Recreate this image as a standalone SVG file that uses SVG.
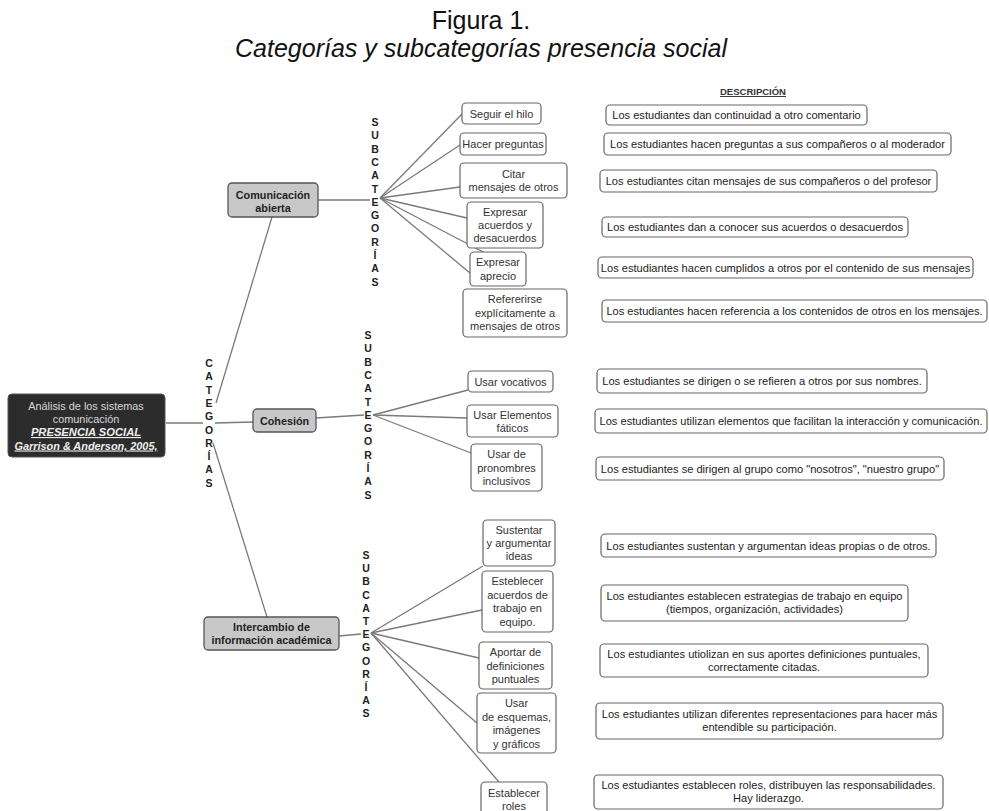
<svg xmlns="http://www.w3.org/2000/svg" width="989" height="811" viewBox="0 0 989 811">
<style>
text{font-family:"Liberation Sans",Arial,sans-serif;}
.title{font-size:25px;fill:#111;text-anchor:middle;}
.conn line{stroke:#7a7a7a;stroke-width:1.3;}
.box{fill:#fff;stroke:#666;stroke-width:1.2;}
.cat{fill:#c8c8c8;stroke:#555;stroke-width:1.3;}
.st{font-size:11px;fill:#333;text-anchor:middle;}
.dt{font-size:11.1px;fill:#222;text-anchor:middle;}
.ct{font-size:10.8px;font-weight:bold;fill:#222;text-anchor:middle;}
.vl{font-size:10.5px;font-weight:bold;fill:#222;text-anchor:middle;}
</style>
<rect width="989" height="811" fill="#fff"/>
<text class="title" x="481" y="29">Figura 1.</text>
<text class="title" x="481" y="57" font-style="italic">Categorías y subcategorías presencia social</text>
<text x="753" y="95" font-size="9.5" font-weight="bold" fill="#333" text-anchor="middle" text-decoration="underline">DESCRIPCIÓN</text>

<g id="connectors" class="conn">
<line x1="166" y1="423" x2="203" y2="423"/>
<line x1="215" y1="423" x2="253" y2="422"/>
<line x1="216" y1="403" x2="272" y2="217"/>
<line x1="213" y1="443" x2="267" y2="617"/>
<line x1="318" y1="200" x2="370" y2="200"/>
<line x1="316" y1="418" x2="364" y2="415"/>
<line x1="339" y1="636" x2="361" y2="634"/>
<line x1="380" y1="198" x2="462" y2="114"/>
<line x1="380" y1="198" x2="460" y2="145"/>
<line x1="380" y1="198" x2="460" y2="187"/>
<line x1="380" y1="198" x2="467" y2="218"/>
<line x1="380" y1="198" x2="487" y2="254"/>
<line x1="380" y1="198" x2="470" y2="273"/>
<line x1="373" y1="415" x2="468" y2="390"/>
<line x1="373" y1="415" x2="467" y2="418"/>
<line x1="373" y1="415" x2="471" y2="453"/>
<line x1="371" y1="633" x2="483" y2="566"/>
<line x1="371" y1="633" x2="482" y2="610"/>
<line x1="371" y1="633" x2="479" y2="658"/>
<line x1="371" y1="633" x2="477" y2="723"/>
<line x1="371" y1="633" x2="499" y2="782"/>
</g>

<g id="label-categorias"><text class="vl" x="209" y="367"><tspan x="209">C</tspan><tspan x="209" dy="13.3">A</tspan><tspan x="209" dy="13.3">T</tspan><tspan x="209" dy="13.3">E</tspan><tspan x="209" dy="13.3">G</tspan><tspan x="209" dy="13.3">O</tspan><tspan x="209" dy="13.3">R</tspan><tspan x="209" dy="13.3">Í</tspan><tspan x="209" dy="13.3">A</tspan><tspan x="209" dy="13.3">S</tspan></text></g>
<g id="label-sub1"><text class="vl" x="375" y="126"><tspan x="375">S</tspan><tspan x="375" dy="13.3">U</tspan><tspan x="375" dy="13.3">B</tspan><tspan x="375" dy="13.3">C</tspan><tspan x="375" dy="13.3">A</tspan><tspan x="375" dy="13.3">T</tspan><tspan x="375" dy="13.3">E</tspan><tspan x="375" dy="13.3">G</tspan><tspan x="375" dy="13.3">O</tspan><tspan x="375" dy="13.3">R</tspan><tspan x="375" dy="13.3">Í</tspan><tspan x="375" dy="13.3">A</tspan><tspan x="375" dy="13.3">S</tspan></text></g>
<g id="label-sub2"><text class="vl" x="368" y="339"><tspan x="368">S</tspan><tspan x="368" dy="13.3">U</tspan><tspan x="368" dy="13.3">B</tspan><tspan x="368" dy="13.3">C</tspan><tspan x="368" dy="13.3">A</tspan><tspan x="368" dy="13.3">T</tspan><tspan x="368" dy="13.3">E</tspan><tspan x="368" dy="13.3">G</tspan><tspan x="368" dy="13.3">O</tspan><tspan x="368" dy="13.3">R</tspan><tspan x="368" dy="13.3">Í</tspan><tspan x="368" dy="13.3">A</tspan><tspan x="368" dy="13.3">S</tspan></text></g>
<g id="label-sub3"><text class="vl" x="366" y="559"><tspan x="366">S</tspan><tspan x="366" dy="13.2">U</tspan><tspan x="366" dy="13.2">B</tspan><tspan x="366" dy="13.2">C</tspan><tspan x="366" dy="13.2">A</tspan><tspan x="366" dy="13.2">T</tspan><tspan x="366" dy="13.2">E</tspan><tspan x="366" dy="13.2">G</tspan><tspan x="366" dy="13.2">O</tspan><tspan x="366" dy="13.2">R</tspan><tspan x="366" dy="13.2">Í</tspan><tspan x="366" dy="13.2">A</tspan><tspan x="366" dy="13.2">S</tspan></text></g>

<g id="root">
<rect x="8" y="394" width="157" height="63" rx="4" fill="#2c2c2c" stroke="#555" stroke-width="1"/>
<text x="86" y="409.5" font-size="10.9" fill="#d8d8d8" text-anchor="middle">Análisis de los sistemas</text>
<text x="86" y="422.5" font-size="10.9" fill="#d8d8d8" text-anchor="middle">comunicación</text>
<text x="86" y="436" font-size="11.2" fill="#eee" font-weight="bold" font-style="italic" text-decoration="underline" text-anchor="middle">PRESENCIA SOCIAL</text>
<text x="86" y="449.5" font-size="10.9" fill="#eee" font-weight="bold" font-style="italic" text-decoration="underline" text-anchor="middle">Garrison &amp; Anderson, 2005,</text>
</g>

<g id="cat-comunicacion"><rect class="cat" x="228" y="183" width="90" height="34" rx="4"/><text class="ct" x="273" y="198.5">Comunicación</text><text class="ct" x="273" y="211.5">abierta</text></g>
<g id="cat-cohesion"><rect class="cat" x="253" y="409" width="63" height="23" rx="4"/><text class="ct" x="284.5" y="424.5">Cohesión</text></g>
<g id="cat-intercambio"><rect class="cat" x="204" y="617" width="135" height="33" rx="4"/><text class="ct" x="271.5" y="630.5">Intercambio de</text><text class="ct" x="271.5" y="643.5">información académica</text></g>

<g id="sub-seguir"><rect class="box" x="462" y="103" width="79" height="21" rx="4"/><text class="st" x="501.5" y="117.5">Seguir el hilo</text></g>
<g id="sub-hacer"><rect class="box" x="460" y="133" width="86" height="22" rx="4"/><text class="st" x="503" y="148">Hacer preguntas</text></g>
<g id="sub-citar"><rect class="box" x="460" y="163" width="107" height="35" rx="4"/><text class="st" x="513.5" y="177.5">Citar</text><text class="st" x="513.5" y="190.5">mensajes de otros</text></g>
<g id="sub-acuerdos"><rect class="box" x="467" y="202" width="76" height="46" rx="4"/><text class="st" x="505" y="215.5">Expresar</text><text class="st" x="505" y="228.5">acuerdos y</text><text class="st" x="505" y="241.5">desacuerdos</text></g>
<g id="sub-aprecio"><rect class="box" x="470" y="252" width="56" height="34" rx="4"/><text class="st" x="498" y="266">Expresar</text><text class="st" x="498" y="279.5">aprecio</text></g>
<g id="sub-referirse"><rect class="box" x="463" y="289" width="104" height="48" rx="4"/><text class="st" x="515" y="303">Refererirse</text><text class="st" x="515" y="316.5">explícitamente a</text><text class="st" x="515" y="330">mensajes de otros</text></g>

<g id="sub-vocativos"><rect class="box" x="468" y="371" width="85" height="21" rx="4"/><text class="st" x="510.5" y="385.5">Usar vocativos</text></g>
<g id="sub-faticos"><rect class="box" x="467" y="405" width="91" height="32" rx="4"/><text class="st" x="512.5" y="418.5">Usar Elementos</text><text class="st" x="512.5" y="431.5">fáticos</text></g>
<g id="sub-pronombres"><rect class="box" x="471" y="444" width="71" height="47" rx="4"/><text class="st" x="506.5" y="458">Usar de</text><text class="st" x="506.5" y="471.5">pronombres</text><text class="st" x="506.5" y="485">inclusivos</text></g>

<g id="sub-sustentar"><rect class="box" x="483" y="520" width="72" height="46" rx="4"/><text class="st" x="519" y="533.5">Sustentar</text><text class="st" x="519" y="546.5">y argumentar</text><text class="st" x="519" y="559.5">ideas</text></g>
<g id="sub-acuerdos-trabajo"><rect class="box" x="482" y="571" width="71" height="61" rx="4"/><text class="st" x="517.5" y="585">Esteblecer</text><text class="st" x="517.5" y="598.5">acuerdos de</text><text class="st" x="517.5" y="612">trabajo en</text><text class="st" x="517.5" y="625.5">equipo.</text></g>
<g id="sub-aportar"><rect class="box" x="479" y="642" width="73" height="47" rx="4"/><text class="st" x="515.5" y="656">Aportar de</text><text class="st" x="515.5" y="669.5">definiciones</text><text class="st" x="515.5" y="683">puntuales</text></g>
<g id="sub-esquemas"><rect class="box" x="477" y="693" width="79" height="60" rx="4"/><text class="st" x="516.5" y="707">Usar</text><text class="st" x="516.5" y="720.5">de esquemas,</text><text class="st" x="516.5" y="734">imágenes</text><text class="st" x="516.5" y="747.5">y gráficos</text></g>
<g id="sub-roles"><rect class="box" x="481" y="782" width="66" height="34" rx="4"/><text class="st" x="514" y="796.5">Establecer</text><text class="st" x="514" y="809.5">roles</text></g>

<g id="desc-1"><rect class="box" x="606" y="105" width="261" height="20" rx="4"/><text class="dt" x="736.5" y="119">Los estudiantes dan continuidad a otro comentario</text></g>
<g id="desc-2"><rect class="box" x="604" y="133" width="347" height="22" rx="4"/><text class="dt" x="777.5" y="148">Los estudiantes hacen preguntas a sus compañeros o al moderador</text></g>
<g id="desc-3"><rect class="box" x="600" y="170" width="337" height="22" rx="4"/><text class="dt" x="768.5" y="185">Los estudiantes citan mensajes de sus compañeros o del profesor</text></g>
<g id="desc-4"><rect class="box" x="602" y="217" width="306" height="20" rx="4"/><text class="dt" x="755" y="231">Los estudiantes dan a conocer sus acuerdos o desacuerdos</text></g>
<g id="desc-5"><rect class="box" x="598" y="257" width="375" height="21" rx="4"/><text class="dt" x="785.5" y="271.5">Los estudiantes hacen cumplidos a otros por el contenido de sus mensajes</text></g>
<g id="desc-6"><rect class="box" x="602" y="300" width="385" height="22" rx="4"/><text class="dt" x="794.5" y="315">Los estudiantes hacen referencia a los contenidos de otros en los mensajes.</text></g>
<g id="desc-7"><rect class="box" x="597" y="369" width="330" height="24" rx="4"/><text class="dt" x="762" y="385">Los estudiantes se dirigen o se refieren a otros por sus nombres.</text></g>
<g id="desc-8"><rect class="box" x="595" y="409" width="392" height="24" rx="4"/><text class="dt" x="791" y="425">Los estudiantes utilizan elementos que facilitan la interacción y comunicación.</text></g>
<g id="desc-9"><rect class="box" x="596" y="457" width="348" height="23" rx="4"/><text class="dt" x="770" y="472.5">Los estudiantes se dirigen al grupo como "nosotros", "nuestro grupo"</text></g>
<g id="desc-10"><rect class="box" x="601" y="534" width="335" height="23" rx="4"/><text class="dt" x="768.5" y="549.5">Los estudiantes sustentan y argumentan ideas propias o de otros.</text></g>
<g id="desc-11"><rect class="box" x="601" y="585" width="307" height="36" rx="4"/><text class="dt" x="754.5" y="600">Los estudiantes establecen estrategias de trabajo en equipo</text><text class="dt" x="754.5" y="613">(tiempos, organización, actividades)</text></g>
<g id="desc-12"><rect class="box" x="600" y="644" width="328" height="33" rx="4"/><text class="dt" x="764" y="658">Los estudiantes utiolizan en sus aportes definiciones puntuales,</text><text class="dt" x="764" y="671">correctamente citadas.</text></g>
<g id="desc-13"><rect class="box" x="596" y="703" width="347" height="36" rx="4"/><text class="dt" x="769.5" y="718">Los estudiantes utilizan diferentes representaciones para hacer más</text><text class="dt" x="769.5" y="731">entendible su participación.</text></g>
<g id="desc-14"><rect class="box" x="594" y="775" width="349" height="34" rx="4"/><text class="dt" x="768.5" y="789">Los estudiantes establecen roles, distribuyen las responsabilidades.</text><text class="dt" x="768.5" y="802">Hay liderazgo.</text></g>
</svg>
